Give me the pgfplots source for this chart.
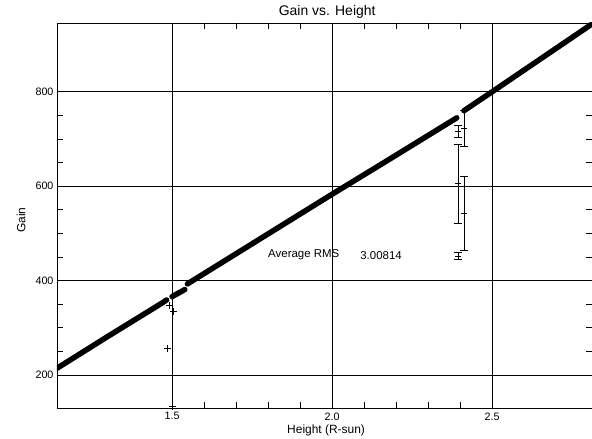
\documentclass[border=0pt]{standalone}
\usepackage{fontspec}
\setmainfont{Liberation Sans}
\usepackage{pgfplots}
\pgfplotsset{compat=1.18}
\usetikzlibrary{calc}

\begin{document}
\begin{tikzpicture}
\begin{axis}[
  name=ax,
  scale only axis,
  width=535bp, height=385bp,
  xmin=1.1405, xmax=2.8125,
  ymin=130, ymax=946,
  xtick={1.5,2.0,2.5},
  xticklabels={1.5,2.0,2.5},
  ytick={200,400,600,800},
  minor x tick num=4,
  minor y tick num=3,
  tick pos=both,
  tick align=inside,
  major tick length=0pt,
  minor tick length=6bp,
  grid=major,
  major grid style={black, line width=0.8pt},
  axis line style={black, line width=0.8pt},
  every tick/.style={black, line width=0.7pt},
  /pgf/number format/assume math mode=true,
  tick label style={font=\fontsize{10.8}{12}\selectfont},
  xticklabel style={yshift=-1bp},
  label style={font=\fontsize{12}{14}\selectfont},
  every axis title shift=0pt,
  title style={font=\fontsize{14}{16}\selectfont, at={(axis description cs:0.505,1.0286)}, anchor=center},
  xlabel style={at={(axis description cs:0.503,-0.057)}, anchor=center},
  ylabel style={at={(axis description cs:-0.0673,0.488)}, anchor=center},
  title={Gain vs. Height},
  xlabel={Height (R-sun)},
  ylabel={Gain},
  clip=true,
]
% main trend, drawn as a thick band of samples
\addplot[black, line width=5.5pt, line cap=round] coordinates {
  (1.140,214) (1.300,282) (1.470,353) (1.483,359)
};
\addplot[black, line width=5.5pt, line cap=round] coordinates {
  (1.500,366) (1.540,381)
};
\addplot[black, line width=5.5pt, line cap=round] coordinates {
  (1.548,393) (2.000,583) (2.150,645) (2.390,745)
};
\addplot[black, line width=5.5pt, line cap=round] coordinates {
  (2.412,760) (2.500,800) (2.830,952)
};

% outliers near 1.5
\addplot[only marks, mark=+, mark size=3.5pt, black, line width=0.8pt] coordinates {
  (1.487,257) (1.505,334) (1.500,133) (1.492,348)
};

% error bars near 2.4
\addplot[only marks, mark=+, mark size=3pt, black, line width=0.8pt,
  error bars/.cd, y dir=both, y explicit,
  error bar style={black, line width=0.8pt},
  error mark options={rotate=90, mark size=4pt, black, line width=0.8pt}]
  coordinates {
  (2.394,716) +- (0,12)
  (2.394,605) +- (0,83)
  (2.394,452) +- (0,8)
  (2.413,722) +- (0,38)
  (2.413,542) +- (0,79)
};

\node[anchor=west, inner sep=0pt, font=\fontsize{11.5}{13}\selectfont] at (axis cs:1.800,454) {Average RMS};
\node[anchor=west, inner sep=0pt, font=\fontsize{11.5}{13}\selectfont] at (axis cs:2.088,454) {3.00814};
\end{axis}
\pgfresetboundingbox
\path[use as bounding box] ($(ax.south west)+(-57bp,-31bp)$) rectangle ($(ax.north east)+(0bp,23bp)$);
\end{tikzpicture}
\end{document}
